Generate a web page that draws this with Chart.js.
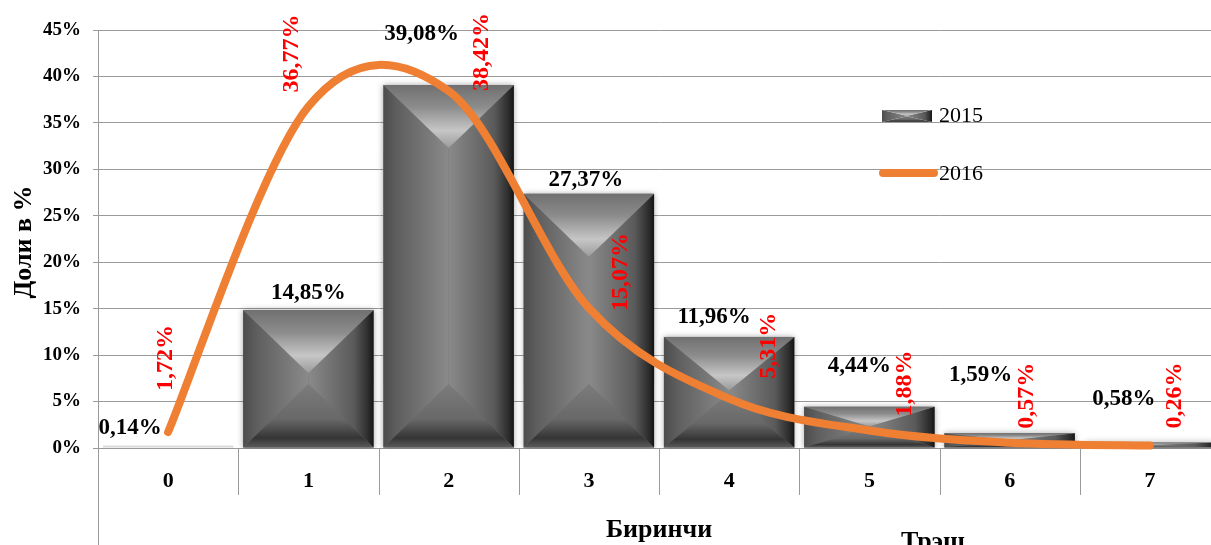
<!DOCTYPE html>
<html>
<head>
<meta charset="utf-8">
<script src="https://cdn.jsdelivr.net/npm/chart.js@4"></script>
<style>
  html, body { margin: 0; padding: 0; background: #ffffff; overflow: hidden; }
  #wrap { width: 1230px; height: 545px; }
</style>
</head>
<body>
<div id="wrap"><canvas id="chart" width="1230" height="545"></canvas></div>
<script>
// Score categories on the x axis
const categories = ['0', '1', '2', '3', '4', '5', '6', '7'];
// Share of students per score, percent
const share2015 = [0.14, 14.85, 39.08, 27.37, 11.96, 4.44, 1.59, 0.58];
const share2016 = [1.72, 36.77, 38.42, 15.07, 5.31, 1.88, 0.57, 0.26];
const seriesNames = ['2015', '2016'];
// Axis texts
const yTitle = 'Доли в %';
const footNotes = ['Биринчи', 'Трэш'];

const SERIF = "'Liberation Serif', 'Times New Roman', serif";
const ORANGE = '#EE7F33';
const GRID = '#9a9a9a';

const fmt = v => v.toFixed(2).replace('.', ',') + '%';

// Nudges (px) for the value labels relative to their mark
const barLabelShift = [[-38, -19], [0, -17], [-27, -51], [-3, -14], [-15, -20], [-10, -41], [-29, -58], [-26, -44]];
const lineLabelShift = [[-2, -74], [-17, -53], [33, -39], [32, -36], [40, -53], [35, -47], [17, -47], [25, -50]];

// Draws one bevelled "pyramid frame" bar
function drawBevelBar(ctx, L, T, R, B, halo) {
  const w = R - L, h = B - T;
  if (h <= 0 || w <= 0) return;
  const cx = (L + R) / 2;
  const d = Math.min(w / 2, h / 2) * 0.97;

  ctx.save();
  if (halo) {
    ctx.shadowColor = 'rgba(0,0,0,0.35)';
    ctx.shadowBlur = 6;
    ctx.fillStyle = '#6a6a6a';
    ctx.fillRect(L, T, w, h);
    ctx.shadowColor = 'transparent';
  }

  // left panel
  let g = ctx.createLinearGradient(L, 0, cx, 0);
  g.addColorStop(0, '#4c4c4c');
  g.addColorStop(0.2, '#5e5e5e');
  g.addColorStop(1, '#8a8a8a');
  ctx.fillStyle = g;
  ctx.beginPath();
  ctx.moveTo(L, T); ctx.lineTo(cx, T + d); ctx.lineTo(cx, B - d); ctx.lineTo(L, B);
  ctx.closePath(); ctx.fill();

  // right panel
  g = ctx.createLinearGradient(cx, 0, R, 0);
  g.addColorStop(0, '#8a8a8a');
  g.addColorStop(0.7, '#5a5a5a');
  g.addColorStop(0.92, '#2c2c2c');
  g.addColorStop(1, '#141414');
  ctx.fillStyle = g;
  ctx.beginPath();
  ctx.moveTo(R, T); ctx.lineTo(cx, T + d); ctx.lineTo(cx, B - d); ctx.lineTo(R, B);
  ctx.closePath(); ctx.fill();

  // top facet
  g = ctx.createLinearGradient(0, T, 0, T + d);
  g.addColorStop(0, '#707070');
  g.addColorStop(0.35, '#8c8c8c');
  g.addColorStop(0.72, '#c6c6c6');
  g.addColorStop(1, '#9a9a9a');
  ctx.fillStyle = g;
  ctx.beginPath();
  ctx.moveTo(L, T); ctx.lineTo(R, T); ctx.lineTo(cx, T + d);
  ctx.closePath(); ctx.fill();

  // bottom facet
  g = ctx.createLinearGradient(0, B - d, 0, B);
  g.addColorStop(0, '#7c7c7c');
  g.addColorStop(0.55, '#686868');
  g.addColorStop(0.85, '#353535');
  g.addColorStop(1, '#5a5a5a');
  ctx.fillStyle = g;
  ctx.beginPath();
  ctx.moveTo(L, B); ctx.lineTo(R, B); ctx.lineTo(cx, B - d);
  ctx.closePath(); ctx.fill();

  ctx.restore();
}

// Paints the bars of the 2015 series as bevelled blocks
const bevelBars = {
  id: 'bevelBars',
  afterDatasetDraw(chart, args) {
    if (args.index !== 0) return;
    const ctx = chart.ctx;
    const area = chart.chartArea;
    ctx.save();
    ctx.beginPath();
    ctx.rect(area.left, 0, area.right - area.left, area.bottom + 1);
    ctx.clip();
    args.meta.data.forEach(el => {
      const p = el.getProps(['x', 'y', 'base', 'width'], true);
      const L = p.x - p.width / 2, R = p.x + p.width / 2;
      const T = Math.min(p.y, p.base), B = Math.max(p.y, p.base);
      if (B - T < 2) {
        ctx.fillStyle = '#d9d9d9';
        ctx.fillRect(L, B - 2, R - L, 2);
      } else {
        drawBevelBar(ctx, L, T, R, B, true);
      }
    });
    ctx.restore();
  }
};

// Uniform Catmull-Rom control points for the 2016 curve
const smoothCurve = {
  id: 'smoothCurve',
  beforeDatasetDraw(chart, args) {
    if (args.index !== 1) return;
    const line = args.meta.dataset;
    line.updateControlPoints(chart.chartArea, 'x');
    const pts = args.meta.data;
    const n = pts.length;
    for (let i = 0; i < n; i++) {
      const prev = pts[Math.max(i - 1, 0)];
      const next = pts[Math.min(i + 1, n - 1)];
      const tx = (next.x - prev.x) / 6;
      const ty = (next.y - prev.y) / 6;
      pts[i].cp1x = pts[i].x - tx;
      pts[i].cp1y = pts[i].y - ty;
      pts[i].cp2x = pts[i].x + tx;
      pts[i].cp2y = pts[i].y + ty;
    }
  }
};

// Axis extras, value labels, legend and captions
const decorations = {
  id: 'decorations',
  afterDatasetsDraw(chart) {
    const ctx = chart.ctx;
    const bars = chart.getDatasetMeta(0).data;
    const pts = chart.getDatasetMeta(1).data;

    ctx.save();
    ctx.textAlign = 'center';
    ctx.textBaseline = 'middle';

    // 2015 values above the bars
    ctx.fillStyle = '#000000';
    ctx.font = 'bold 23px ' + SERIF;
    bars.forEach((el, i) => {
      const s = barLabelShift[i];
      ctx.fillText(fmt(share2015[i]), el.x + s[0], el.y + s[1]);
    });

    // 2016 values, rotated, next to the curve
    ctx.fillStyle = '#ff0000';
    ctx.font = 'bold 24px ' + SERIF;
    pts.forEach((el, i) => {
      const s = lineLabelShift[i];
      ctx.save();
      ctx.translate(el.x + s[0], el.y + s[1]);
      ctx.rotate(-Math.PI / 2);
      ctx.fillText(fmt(share2016[i]), 0, 0);
      ctx.restore();
    });
    ctx.restore();
  },
  afterDraw(chart) {
    const ctx = chart.ctx;
    const area = chart.chartArea;
    const x = chart.scales.x;
    const H = chart.height;

    ctx.save();
    // category dividers under the axis and the long left axis line
    ctx.strokeStyle = GRID;
    ctx.lineWidth = 1;
    ctx.beginPath();
    for (let i = 1; i < categories.length; i++) {
      const px = Math.round((x.getPixelForValue(i - 1) + x.getPixelForValue(i)) / 2) + 0.5;
      ctx.moveTo(px, area.bottom);
      ctx.lineTo(px, area.bottom + 47);
    }
    const ax = Math.round(area.left) + 0.5;
    ctx.moveTo(ax, area.bottom);
    ctx.lineTo(ax, H);
    ctx.stroke();

    // legend
    drawBevelBar(ctx, 882, 110, 932, 122, false);
    ctx.strokeStyle = ORANGE;
    ctx.lineWidth = 8;
    ctx.lineCap = 'round';
    ctx.beginPath();
    ctx.moveTo(883, 173);
    ctx.lineTo(934, 173);
    ctx.stroke();
    ctx.fillStyle = '#000000';
    ctx.font = '22px ' + SERIF;
    ctx.textAlign = 'left';
    ctx.textBaseline = 'middle';
    ctx.fillText(seriesNames[0], 939, 116);
    ctx.fillText(seriesNames[1], 939, 174);

    // y axis title
    ctx.font = 'bold 26px ' + SERIF;
    ctx.textAlign = 'center';
    ctx.save();
    ctx.translate(24, 242);
    ctx.rotate(-Math.PI / 2);
    ctx.fillText(yTitle, 0, 0);
    ctx.restore();

    // captions under the axis
    ctx.font = 'bold 26px ' + SERIF;
    ctx.textBaseline = 'alphabetic';
    ctx.fillText(footNotes[0], 659, 537);
    ctx.fillText(footNotes[1], 933, 549);
    ctx.restore();
  }
};

new Chart(document.getElementById('chart'), {
  type: 'bar',
  data: {
    labels: categories,
    datasets: [
      {
        type: 'bar',
        label: seriesNames[0],
        data: share2015,
        backgroundColor: 'rgba(0,0,0,0)',
        borderWidth: 0,
        barPercentage: 0.93,
        categoryPercentage: 1.0,
        order: 1
      },
      {
        type: 'line',
        label: seriesNames[1],
        data: share2016,
        borderColor: ORANGE,
        borderWidth: 8,
        borderCapStyle: 'round',
        borderJoinStyle: 'round',
        tension: 0.4,
        pointRadius: 0,
        pointHoverRadius: 0,
        fill: false,
        clip: false,
        order: 0
      }
    ]
  },
  options: {
    responsive: false,
    devicePixelRatio: 1,
    animation: false,
    events: [],
    layout: { padding: { left: 0, right: 10, top: 30, bottom: 0 } },
    plugins: { legend: { display: false }, tooltip: { enabled: false } },
    scales: {
      x: {
        afterFit: s => { s.height = 97; },
        grid: { display: false, drawTicks: false },
        border: { display: true, color: GRID, width: 1 },
        ticks: {
          color: '#000000',
          padding: 20,
          font: { family: SERIF, size: 22, weight: 'bold' }
        }
      },
      y: {
        min: 0,
        max: 45,
        afterFit: s => { s.width = 98; },
        grid: { color: GRID, lineWidth: 1, tickLength: 5, drawTicks: true },
        border: { display: true, color: GRID, width: 1 },
        ticks: {
          stepSize: 5,
          color: '#000000',
          padding: 12,
          font: { family: SERIF, size: 19, weight: 'bold' },
          callback: v => v + '%'
        }
      }
    }
  },
  plugins: [bevelBars, smoothCurve, decorations]
});
</script>
</body>
</html>
